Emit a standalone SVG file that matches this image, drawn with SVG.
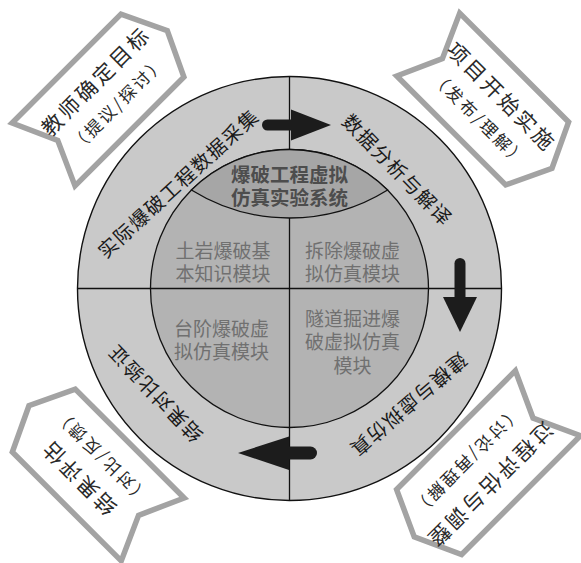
<svg xmlns="http://www.w3.org/2000/svg" width="581" height="563" viewBox="0 0 581 563">
<defs>
<style>
text{font-family:"Noto Sans CJK SC","Noto Sans",sans-serif;dominant-baseline:central;text-anchor:middle}
.ring{fill:#1a1a1a;font-size:19.5px;letter-spacing:1.5px}
.quad{fill:#707070;font-size:19px}
.cap{fill:#4d4d4d;font-size:19.5px;font-weight:bold}
.co{fill:#fff;stroke:#a3a3a3;stroke-width:5.5;stroke-linejoin:miter}
.t1{fill:#2a2a2a;font-size:21px;letter-spacing:3px}
.t2{fill:#2a2a2a;font-size:17px;letter-spacing:2.5px}
.arrow{fill:#1c1c1c}
.shaft{stroke:#1c1c1c;stroke-linecap:round;fill:none}
.ln{stroke:#111;stroke-width:1.3;fill:none}
</style>
</defs>
<rect width="581" height="563" fill="#fff"/>
<g id="wheel">
<circle cx="289.5" cy="288.5" r="212" fill="#c9c9c9" stroke="#111" stroke-width="1.4"/>
<circle cx="289.5" cy="288.5" r="139" fill="#b3b3b3" stroke="#111" stroke-width="1.3"/>
<line class="ln" x1="289.5" y1="76.5" x2="289.5" y2="149.5"/>
<line class="ln" x1="289.5" y1="218" x2="289.5" y2="500.5"/>
<line class="ln" x1="77.5" y1="288.5" x2="501.5" y2="288.5"/>
</g>
<g id="node-cap">
<path d="M191.4 190 A139 139 0 0 1 387.6 190 A185.9 185.9 0 0 1 191.4 190Z" fill="#a6a6a6" stroke="#111" stroke-width="1.3"/>
<text class="cap"><tspan x="289.5" y="172.5">爆破工程虚拟</tspan><tspan x="289.5" y="195.5">仿真实验系统</tspan></text>
</g>
<g id="node-q1">
<text class="quad"><tspan x="223" y="248.5">土岩爆破基</tspan><tspan x="223" y="271.5">本知识模块</tspan></text>
</g>
<g id="node-q2">
<text class="quad"><tspan x="352.5" y="248.5">拆除爆破虚</tspan><tspan x="352.5" y="271.5">拟仿真模块</tspan></text>
</g>
<g id="node-q3">
<text class="quad"><tspan x="221.5" y="326.5">台阶爆破虚</tspan><tspan x="221.5" y="350">拟仿真模块</tspan></text>
</g>
<g id="node-q4">
<text class="quad"><tspan x="352.5" y="316.5">隧道掘进爆</tspan><tspan x="352.5" y="340">破虚拟仿真</tspan><tspan x="352.5" y="363.5">模块</tspan></text>
</g>
<g id="node-ring-tl"><text class="ring" transform="translate(177.5,182.5) rotate(-42.4)">实际爆破工程数据采集</text></g>
<g id="node-ring-tr"><text class="ring" transform="translate(398.3,169.2) rotate(45.5)">数据分析与解译</text></g>
<g id="node-ring-br"><text class="ring" transform="translate(409.2,405.8) rotate(139.3)">建模与虚拟仿真</text></g>
<g id="node-ring-bl"><text class="ring" transform="translate(154.2,394.2) rotate(-133.8)">结果对比验证</text></g>
<g id="connectors">
<line class="shaft" x1="267.5" y1="125" x2="294" y2="125" stroke-width="11"/>
<polygon class="arrow" points="291,109.5 331,125 291,140.5"/>
<line class="shaft" x1="460" y1="263.5" x2="460" y2="299" stroke-width="11"/>
<polygon class="arrow" points="443,297 477,297 460,332"/>
<line class="shaft" x1="310.5" y1="453" x2="287" y2="453" stroke-width="13"/>
<polygon class="arrow" points="289,436.5 289,470 238,453"/>
</g>
<g id="callout-tl" transform="translate(98,100) rotate(-45)">
<path class="co" d="M-77 -44.5L77 -44.5L98 0L77 44.5L-77 44.5L-57 0Z"/>
<text><tspan class="t1" x="12" y="-16">教师确定目标</tspan><tspan class="t2" x="12" y="15">（提议/探讨）</tspan></text>
</g>
<g id="callout-tr" transform="translate(482.7,99) rotate(45)">
<path class="co" d="M-77 -44.5L77 -44.5L98 0L77 44.5L-77 44.5L-57 0Z"/>
<text><tspan class="t1" x="12" y="-16">项目开始实施</tspan><tspan class="t2" x="12" y="15">（发布/理解）</tspan></text>
</g>
<g id="callout-br" transform="translate(488.5,462.6) rotate(135)">
<path class="co" d="M-84 -46L84 -46L105 0L84 46L-84 46L-63 0Z"/>
<text><tspan class="t1" x="15" y="-18">过程评估与调整</tspan><tspan class="t2" x="15" y="15">（讨论/再理解）</tspan></text>
</g>
<g id="callout-bl" transform="translate(98.25,475) rotate(-135)">
<path class="co" d="M-77 -44.5L77 -44.5L98 0L77 44.5L-77 44.5L-57 0Z"/>
<text><tspan class="t1" x="12" y="-17">结果评估</tspan><tspan class="t2" x="12" y="14">（对比/反馈）</tspan></text>
</g>
</svg>
